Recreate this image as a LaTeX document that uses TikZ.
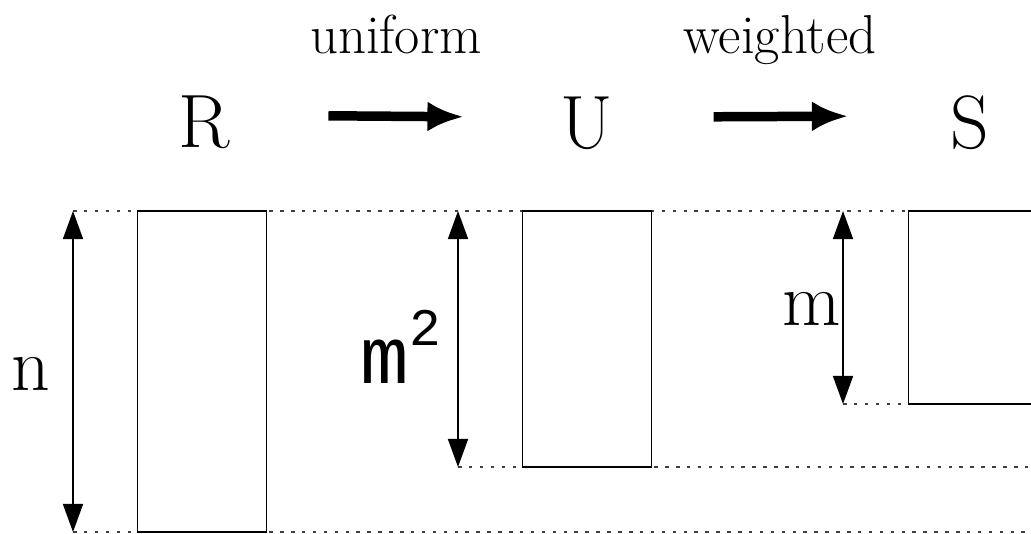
\documentclass[tikz,border=0pt]{standalone}
\usepackage{fontspec}
\newfontfamily\dimfont{Liberation Mono}
\usetikzlibrary{arrows.meta,positioning}

\begin{document}
\begin{tikzpicture}[x=0.01cm, y=-0.01cm,
  lbl/.style={font=\fontsize{21.5}{24}\selectfont, inner sep=0pt, anchor=base},
  op/.style={font=\fontsize{15.6}{18}\selectfont, inner sep=0pt, anchor=base},
  box/.style={draw, line width=0.45pt, inner sep=0pt, outer sep=0pt, minimum width=1.29cm},
  dim/.style={line width=0.45pt, {Triangle[length=2.8mm,width=2mm]}-{Triangle[length=2.8mm,width=2mm]}},
  flow/.style={line width=2.7pt, -{Latex[length=3.6mm,width=3mm]}},
  guide/.style={black!75, line width=0.4pt, dash pattern=on 1pt off 2.1pt}]

  \useasboundingbox (0,0) rectangle (1031,533);
  \clip (0,0) rectangle (1031,533);

  % sets and sampling steps
  \node[lbl] (R) at (204,147) {R};
  \node[lbl] (U) at (587,148) {U};
  \node[lbl] (S) at (970,148) {S};
  \node[op] (uni) at (396,53) {uniform};
  \node[op] (wei) at (780,53) {weighted};

  \draw[flow] ([xshift=0.98cm,yshift=0.06cm]R.east) -- ([xshift=-0.966cm,yshift=0.06cm]U.west);
  \draw[flow] ([xshift=0.996cm,yshift=0.06cm]U.east) -- ([xshift=-1.02cm,yshift=0.06cm]S.west);

  % ends of the guide lines
  \coordinate (nTop) at (73,211);
  \coordinate (nBot) at (73,532);
  \coordinate (uTop) at (458,211);
  \coordinate (uBot) at (458,467);
  \coordinate (sTop) at (843,211);
  \coordinate (sBot) at (843,404);
  \coordinate (eTop) at (1031,211);
  \coordinate (eBot) at (1031,532);
  \coordinate (eMid) at (1031,467);
  \coordinate (eS) at (1031,404);

  \draw[guide] (nTop) -- (eTop);
  \draw[guide] (nBot) -- (eBot);
  \draw[guide] (uBot) -- (eMid);
  \draw[guide] (sBot) -- (eS);

  % the three tables
  \node[box, minimum height=3.21cm] (boxR) at (202,371.5) {};
  \node[box, minimum height=2.56cm] (boxU) at (587,339) {};
  \node[box, minimum height=1.93cm] (boxS) at (973,307.5) {};

  % sizes
  \draw[dim] (nTop) -- (nBot);
  \draw[dim] (uTop) -- (uBot);
  \draw[dim] (sTop) -- (sBot);

  \node[lbl] (n) at (31,390) {n};
  \node[lbl] (m) at (812,325) {m};
  \node[anchor=base west, inner sep=0pt, font=\dimfont\fontsize{23}{25}\selectfont] (m2) at (360,383) {m\raisebox{10.8pt}{\fontsize{15}{17}\selectfont 2}};

\end{tikzpicture}
\end{document}
